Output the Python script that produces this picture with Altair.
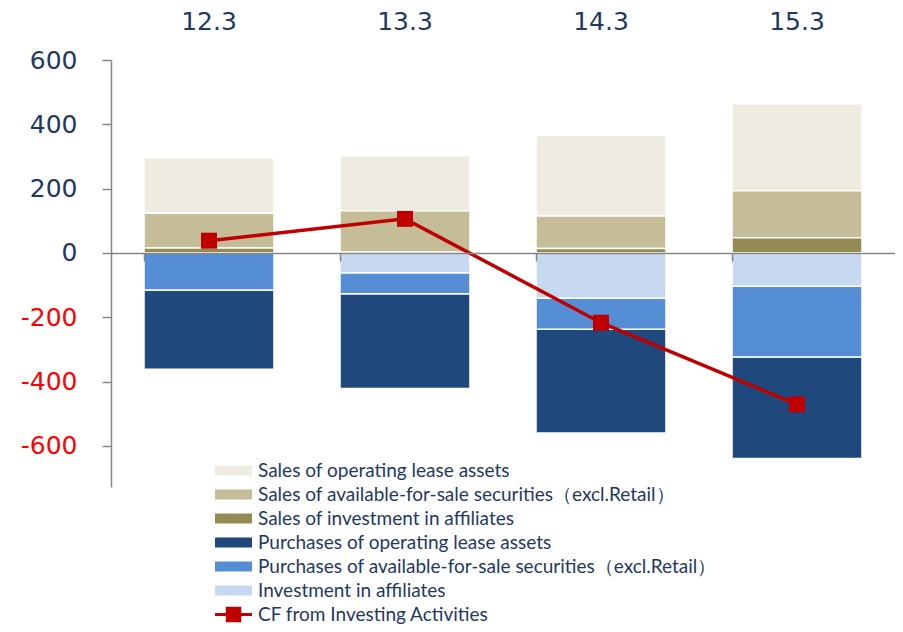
import altair as alt
import pandas as pd

periods = ["12.3", "13.3", "14.3", "15.3"]

series_names = [
    "Sales of operating lease assets",
    "Sales of available-for-sale securities（excl.Retail）",
    "Sales of investment in affiliates",
    "Purchases of operating lease assets",
    "Purchases of available-for-sale securities（excl.Retail）",
    "Investment in affiliates",
]
series_colors = ["#EEECE1", "#C4BD97", "#948A54", "#1F497D", "#558ED5", "#C6D9F1"]
# stacking order next to zero (positive stack upward, negative stack downward)
stack_order = [2, 1, 0, 5, 4, 3]

sales_op_lease = [174, 171, 250, 271]
sales_afs = [108, 129, 101, 146]
sales_affiliates = [15, 2, 14, 47]
purch_op_lease = [-247, -295, -323, -315]
purch_afs = [-115, -65, -96, -220]
inv_affiliates = [0, -62, -141, -104]

cf_name = "CF from Investing Activities"
cf_values = [38, 106, -217, -471]

y_ticks = [-600, -400, -200, 0, 200, 400, 600]

all_series = [sales_op_lease, sales_afs, sales_affiliates, purch_op_lease, purch_afs, inv_affiliates]
rows = []
for name, vals, o in zip(series_names, all_series, stack_order):
    for p, v in zip(periods, vals):
        rows.append({"period": p, "series": name, "value": v, "ord": o})
bars_df = pd.DataFrame(rows)
cf_df = pd.DataFrame({"period": periods, "value": cf_values, "series": [cf_name] * 4})

NAVY = "#1F3864"
GRAY = "#868686"
LEGEND_FONT = "Lato"

y_scale = alt.Scale(domain=[-728, 600], nice=False, zero=False)
x_scale = alt.Scale(paddingInner=0.337, paddingOuter=0.1685)

y_axis = alt.Axis(
    values=y_ticks,
    title=None,
    grid=False,
    domainColor=GRAY,
    domainWidth=1.5,
    tickColor=GRAY,
    tickWidth=1.5,
    tickSize=9,
    labelExpr="'' + datum.value",
    labelFont="DejaVu Sans",
    labelFontSize=25,
    labelPadding=25,
    labelColor={"condition": {"test": "datum.value < 0", "value": "#FF0000"}, "value": NAVY},
)

bars = alt.Chart(bars_df).mark_bar(stroke="white", strokeWidth=1.5).encode(
    x=alt.X(
        "period:N",
        sort=periods,
        scale=x_scale,
        axis=alt.Axis(
            orient="top",
            title=None,
            ticks=False,
            domain=False,
            labelAngle=0,
            labelFont="DejaVu Sans",
            labelFontSize=25,
            labelColor=NAVY,
            labelPadding=26,
        ),
    ),
    y=alt.Y("value:Q", stack="zero", scale=y_scale, axis=y_axis),
    color=alt.Color(
        "series:N",
        scale=alt.Scale(domain=series_names, range=series_colors),
        legend=alt.Legend(
            title=None,
            orient="none",
            legendX=113,
            legendY=401,
            padding=0,
            symbolType="M-3.7,-1H3.7V1H-3.7Z",
            symbolSize=100,
            symbolStrokeWidth=0,
            symbolOpacity=1,
            labelOffset=15,
            labelFont=LEGEND_FONT,
            labelFontSize=19,
            labelColor=NAVY,
            labelLimit=0,
            rowPadding=4,
        ),
    ),
    order=alt.Order("ord:Q"),
)

line = alt.Chart(cf_df).mark_line(
    strokeWidth=3.5,
    point=alt.OverlayMarkDef(shape="square", size=256, filled=True, fill="#C00000", strokeWidth=0),
).encode(
    x=alt.X(
        "period:N",
        sort=periods,
        scale=x_scale,
        axis=alt.Axis(
            orient="bottom",
            title=None,
            labels=False,
            bandPosition=0,
            domainColor=GRAY,
            domainWidth=1.5,
            tickColor=GRAY,
            tickWidth=1.5,
            tickSize=8,
            offset=-234,
            zindex=1,
        ),
    ),
    y=alt.Y("value:Q", scale=y_scale, axis=y_axis),
    stroke=alt.Stroke(
        "series:N",
        scale=alt.Scale(domain=[cf_name], range=["#C00000"]),
        legend=alt.Legend(
            title=None,
            orient="none",
            legendX=113,
            legendY=545,
            padding=0,
            symbolType="M-3.7,0H3.7M-1.25,-1.25H1.25V1.25H-1.25Z",
            symbolSize=100,
            symbolStrokeWidth=3,
            symbolFillColor="#C00000",
            labelOffset=15,
            labelFont=LEGEND_FONT,
            labelFontSize=19,
            labelColor=NAVY,
            labelLimit=0,
        ),
    ),
)

chart = (
    alt.layer(bars, line)
    .resolve_axis(x="independent")
    .resolve_legend(color="independent", stroke="independent")
    .properties(
        width=784,
        height=427,
        padding={"left": 103, "top": 52, "right": 0, "bottom": 137},
        autosize=alt.AutoSizeParams(type="none"),
        background="white",
    )
    .configure_view(stroke=None)
)

chart.save("out.html", embed_options={"renderer": "svg", "actions": False})
